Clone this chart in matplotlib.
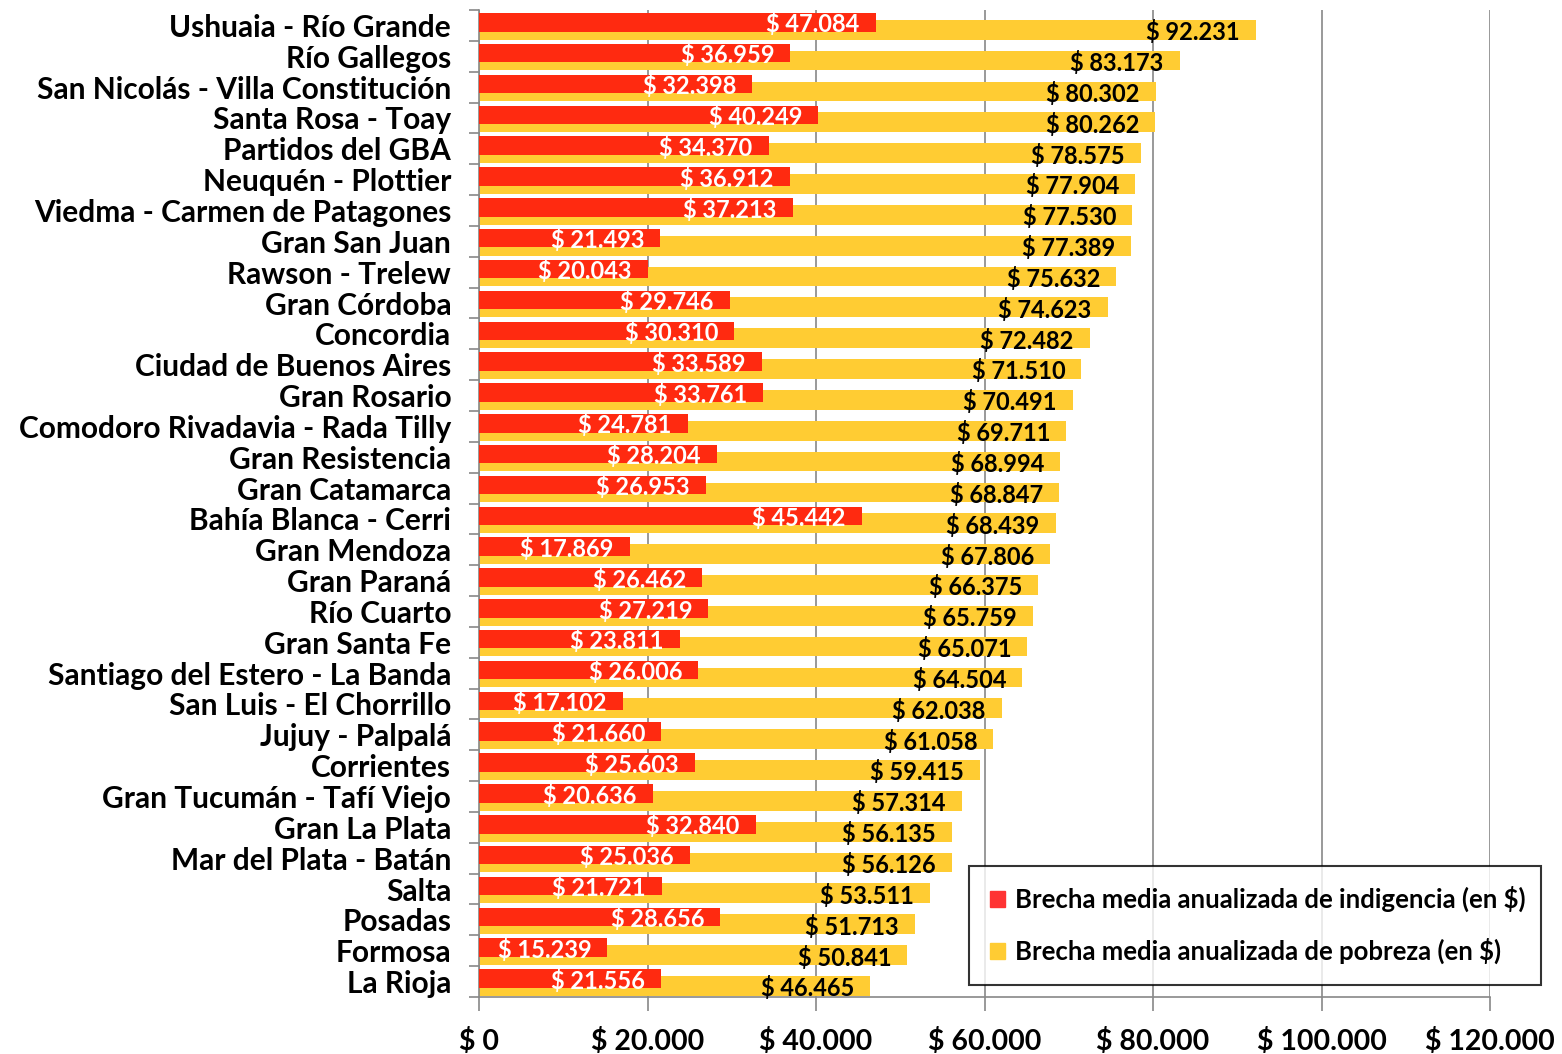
import matplotlib
matplotlib.use("Agg")
import matplotlib.pyplot as plt
from matplotlib.patches import Patch
from matplotlib.ticker import FuncFormatter

categories = ["Ushuaia - Río Grande", "Río Gallegos", "San Nicolás - Villa Constitución",
              "Santa Rosa - Toay", "Partidos del GBA", "Neuquén - Plottier",
              "Viedma - Carmen de Patagones", "Gran San Juan", "Rawson - Trelew",
              "Gran Córdoba", "Concordia", "Ciudad de Buenos Aires", "Gran Rosario",
              "Comodoro Rivadavia - Rada Tilly", "Gran Resistencia", "Gran Catamarca",
              "Bahía Blanca - Cerri", "Gran Mendoza", "Gran Paraná", "Río Cuarto",
              "Gran Santa Fe", "Santiago del Estero - La Banda", "San Luis - El Chorrillo",
              "Jujuy - Palpalá", "Corrientes", "Gran Tucumán - Tafí Viejo", "Gran La Plata",
              "Mar del Plata - Batán", "Salta", "Posadas", "Formosa", "La Rioja"]
indigencia = [47084, 36959, 32398, 40249, 34370, 36912, 37213, 21493, 20043, 29746,
              30310, 33589, 33761, 24781, 28204, 26953, 45442, 17869, 26462, 27219,
              23811, 26006, 17102, 21660, 25603, 20636, 32840, 25036, 21721, 28656,
              15239, 21556]
pobreza = [92231, 83173, 80302, 80262, 78575, 77904, 77530, 77389, 75632, 74623,
           72482, 71510, 70491, 69711, 68994, 68847, 68439, 67806, 66375, 65759,
           65071, 64504, 62038, 61058, 59415, 57314, 56135, 56126, 53511, 51713,
           50841, 46465]
series_names = ["Brecha media anualizada de indigencia (en $)",
                "Brecha media anualizada de pobreza (en $)"]
xticks = [0, 20000, 40000, 60000, 80000, 100000, 120000]

plt.rcParams['font.family'] = ['Lato', 'DejaVu Sans']
plt.rcParams['font.weight'] = 'bold'

RED = "#FF2A10"
YEL = "#FFCC33"

def fmt(v):
    return "$ " + f"{int(v):,}".replace(",", ".")

fig = plt.figure(figsize=(15.62, 10.54), dpi=100)
ax = fig.add_axes([479/1562, 1 - 997/1054, (1490-479)/1562, (997-10)/1054])

n = len(categories)
ypos = list(range(n))
ax.barh([y + 0.14 for y in ypos], pobreza, height=0.64, color=YEL, zorder=2)
ax.barh([y - 0.10 for y in ypos], indigencia, height=0.60, color=RED, zorder=3)

for y, v in zip(ypos, pobreza):
    ax.text(v - 1900, y + 0.22, fmt(v), ha='right', va='center', fontsize=17,
            fontweight='bold', color='black', zorder=4)
for y, v in zip(ypos, indigencia):
    ax.text(v - 1900, y - 0.03, fmt(v), ha='right', va='center', fontsize=17,
            fontweight='bold', color='white', zorder=4)

ax.set_ylim(n - 0.5, -0.5)
ax.set_xlim(0, 120000)
ax.set_yticks([y for y in ypos])
ax.set_yticklabels(categories, fontsize=21.5, fontweight='bold')
ax.set_yticks([y - 0.5 for y in ypos] + [n - 0.5], minor=True)
ax.tick_params(axis='y', which='major', length=0, pad=20)
ax.tick_params(axis='y', which='minor', length=7, color='#888888', width=1.2)
ax.set_xticks(xticks)
ax.xaxis.set_major_formatter(FuncFormatter(lambda v, p: fmt(v)))
ax.tick_params(axis='x', length=10, color='#888888', width=1.2, labelsize=20.5, pad=12)
for lab in ax.get_xticklabels():
    lab.set_fontweight('bold')
ax.grid(axis='x', color='#888888', linewidth=1.2, zorder=0)
ax.set_axisbelow(True)
for s in ['top', 'right']:
    ax.spines[s].set_visible(False)
ax.spines['left'].set_color('#888888')
ax.spines['bottom'].set_color('#888888')
ax.spines['left'].set_linewidth(1.2)
ax.spines['bottom'].set_linewidth(1.2)

handles = [Patch(color="#FF3333"), Patch(color=YEL)]
leg = fig.legend(handles, series_names, loc='lower left',
                 bbox_to_anchor=(969/1562, 1 - 985/1054, (1541-969)/1562, (985-872)/1054),
                 mode='expand', borderaxespad=0, fontsize=18.5, frameon=True, fancybox=False,
                 edgecolor='black', handlelength=0.6, handleheight=0.6,
                 handletextpad=0.4, labelspacing=1.0, borderpad=0.8)
leg.get_frame().set_linewidth(1.5)
for t in leg.get_texts():
    t.set_fontweight('bold')

fig.savefig("out.png", dpi=100)
